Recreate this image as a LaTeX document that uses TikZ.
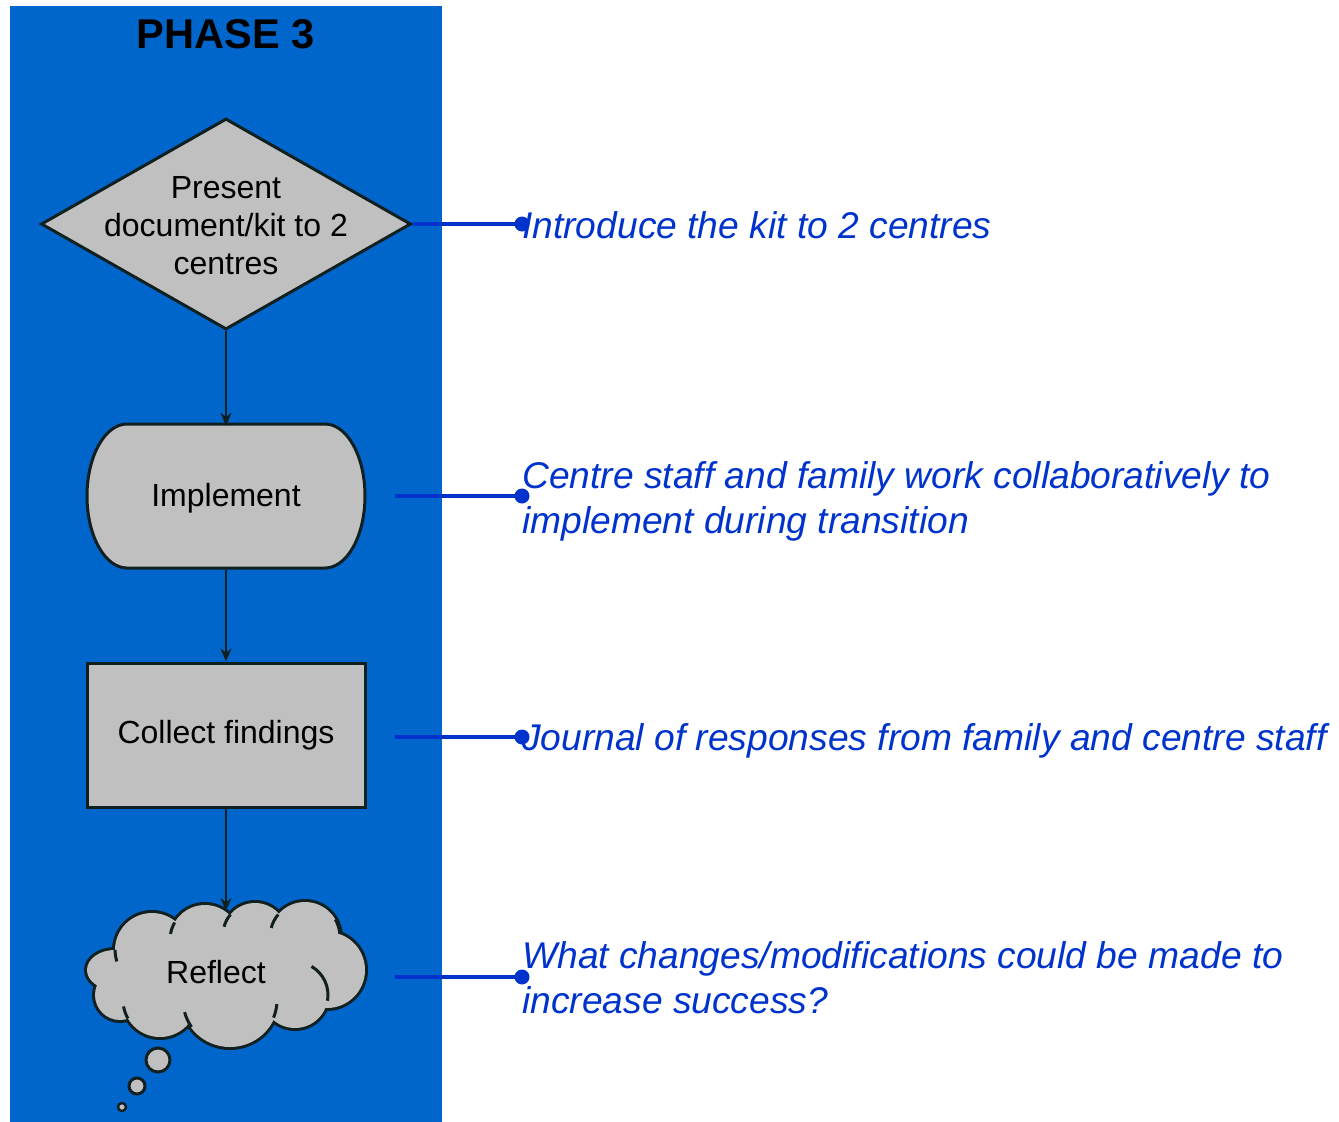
\documentclass[tikz,border=0pt]{standalone}
\usepackage{fontspec}
\setmainfont{Liberation Sans}
\usetikzlibrary{shapes.geometric,arrows.meta}
\definecolor{bgblue}{HTML}{0066CC}
\definecolor{lnblue}{HTML}{0033CC}
\definecolor{boxgray}{HTML}{C0C0C0}
\definecolor{edgecol}{HTML}{102020}
\begin{document}
\begin{tikzpicture}[x=1pt,y=-1pt,
  shapestyle/.style={draw=edgecol, fill=boxgray, line width=3pt},
  lbl/.style={font=\fontsize{32}{38}\selectfont, align=center, text=black},
  note/.style={font=\fontsize{37.2}{45}\selectfont\itshape, text=lnblue, anchor=base west, align=left, inner sep=0pt},
  flow/.style={-{Stealth[length=13pt,width=11pt]}, line width=2.4pt, draw=edgecol},
  link/.style={draw=lnblue, line width=3.6pt},
  dotstyle/.style={circle, fill=lnblue, inner sep=0pt, minimum size=15pt},
  puffline/.style={draw=edgecol, line width=6pt},
  pufffill/.style={fill=boxgray},
  stub/.style={draw=edgecol, line width=3pt}]
\useasboundingbox (0,0) rectangle (1339,1122);
\fill[bgblue] (10,6) rectangle (442,1122);
\node[font=\fontsize{41.6}{50}\selectfont\bfseries, anchor=base] (title) at (226,48) {PHASE 3};
% diamond
\node[diamond, shapestyle, minimum width=370pt, minimum height=211pt, inner sep=0pt] (d) at (226,224) {};
\node[lbl] (dtext) at (226,226) {Present\\document/kit to 2\\centres};
% implement (terminator)
\draw[shapestyle] (127,424) -- (325,424) arc[start angle=90, end angle=-90, x radius=40pt, y radius=72pt] -- (127,568) arc[start angle=270, end angle=90, x radius=40pt, y radius=72pt] -- cycle;
\node[lbl, minimum width=278pt, minimum height=144pt] (impl) at (226,498) {Implement};
% collect
\node[shapestyle, lbl, minimum width=278pt, minimum height=144pt] (coll) at (226,735) {Collect findings};
% cloud built from puffs
\def\cloudpuffs#1{%
  \path[#1] (152,950) circle[radius=37pt];
  \path[#1] (205,940) circle[radius=35pt];
  \path[#1] (255,935) circle[radius=32pt];
  \path[#1] (305,937) circle[radius=35pt];
  \path[#1] (327,970) circle[radius=38pt];
  \path[#1] (295,995) circle[radius=33pt];
  \path[#1] (230,1000) ellipse[x radius=48pt, y radius=47pt];
  \path[#1] (160,1000) circle[radius=37pt];
  \path[#1] (120,995) circle[radius=25pt];
  \path[#1] (115,970) ellipse[x radius=28pt, y radius=20pt];
  \path[#1] (226,968) ellipse[x radius=100pt, y radius=45pt];
}
\cloudpuffs{puffline}
\cloudpuffs{pufffill}
\draw[stub] ([shift={(150:35pt)}]205,940) arc[start angle=150, end angle=170, radius=35pt];
\draw[stub] ([shift={(140:32pt)}]255,935) arc[start angle=140, end angle=165, radius=32pt];
\draw[stub] ([shift={(140:35pt)}]305,937) arc[start angle=140, end angle=165, radius=35pt];
\draw[stub] ([shift={(30:35pt)}]305,937) arc[start angle=30, end angle=5, radius=35pt];
\draw[stub] ([shift={(60:33pt)}]295,995) arc[start angle=60, end angle=-10, radius=33pt];
\draw[stub] ([shift={(215:47pt)}]230,1000) arc[start angle=215, end angle=195, radius=47pt];
\draw[stub] ([shift={(-22:47pt)}]230,1000) arc[start angle=-22, end angle=-5, radius=47pt];
\draw[stub] ([shift={(210:37pt)}]160,1000) arc[start angle=210, end angle=190, radius=37pt];
\draw[stub] ([shift={(180:37pt)}]152,950) arc[start angle=180, end angle=198, radius=37pt];
\node[lbl] (cl) at (216,972) {Reflect};
\coordinate (cltop) at (226,911);
\draw[shapestyle] (158,1060) circle[radius=12pt];
\draw[shapestyle] (137,1086) circle[radius=8pt];
\draw[shapestyle, line width=2.4pt] (122,1107) circle[radius=4pt];
% flow arrows
\draw[flow] (d.south) -- (impl.north);
\draw[flow] (impl.south) -- (coll.north);
\draw[flow] (coll.south) -- (cltop);
% links
\node[dotstyle] (p1) at (522,224) {};
\node[dotstyle] (p2) at (522,496) {};
\node[dotstyle] (p3) at (522,737) {};
\node[dotstyle] (p4) at (522,977) {};
\coordinate (s2) at (395,496);
\coordinate (s3) at (395,737);
\coordinate (s4) at (395,977);
\draw[link] (d.east) -- (p1.center);
\draw[link] (s2) -- (p2.center);
\draw[link] (s3) -- (p3.center);
\draw[link] (s4) -- (p4.center);
\node[note] (n1) at (522,238.5) {Introduce the kit to 2 centres};
\node[note] (n2) at (522,533) {Centre staff and family work collaboratively to\\implement during transition};
\node[note] (n3) at (522,750) {Journal of responses from family and centre staff};
\node[note] (n4) at (522,1013) {What changes/modifications could be made to\\increase success?};
\end{tikzpicture}
\end{document}
